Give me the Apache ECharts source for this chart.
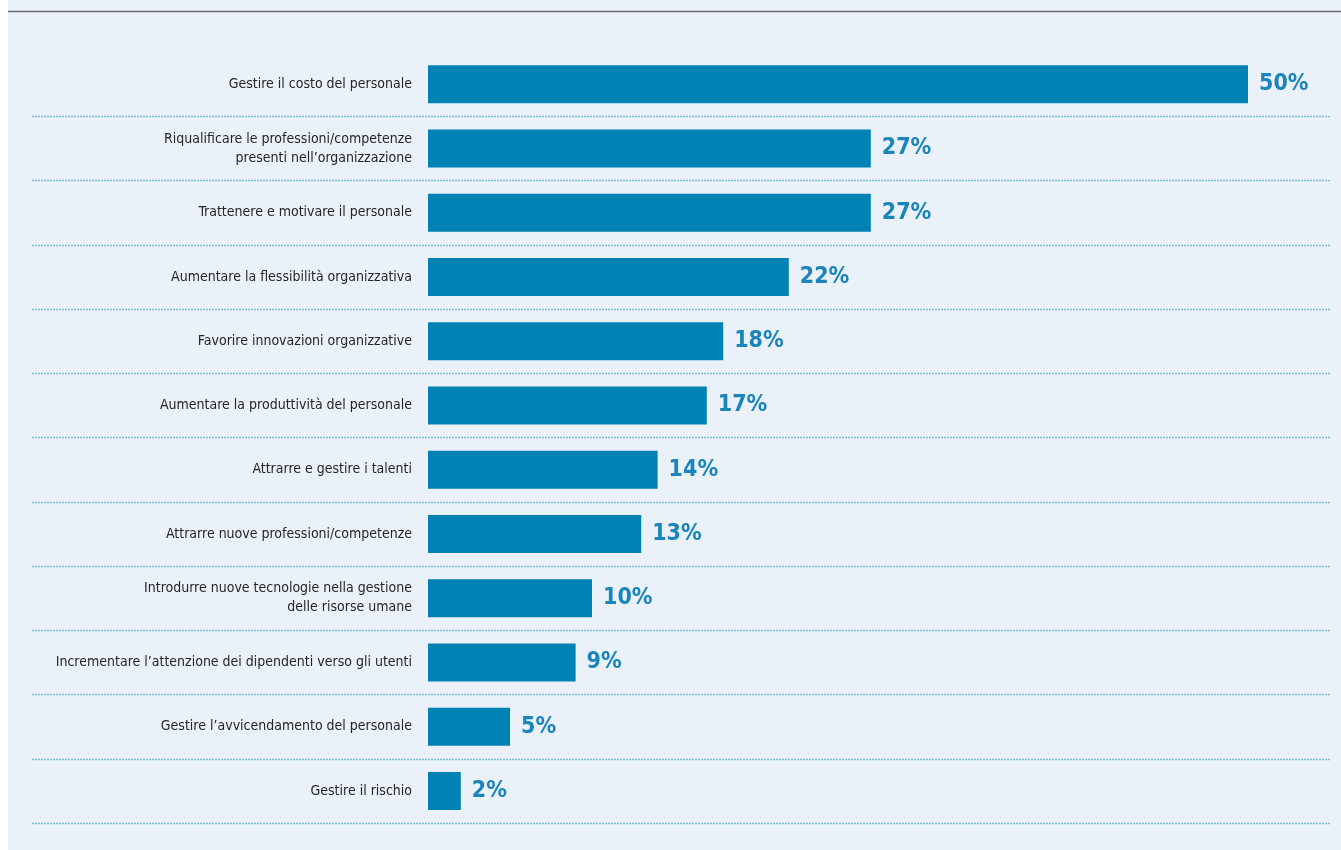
<!DOCTYPE html>
<html>
<head>
<meta charset="utf-8">
<script src="https://cdn.jsdelivr.net/npm/echarts@6/dist/echarts.min.js"></script>
<style>
  html, body { margin: 0; padding: 0; background: #ffffff; }
  #chart { position: absolute; left: 8px; top: 0; width: 1333px; height: 850px; }
</style>
</head>
<body>
<div id="chart"></div>
<script>
// Obiettivi della gestione del personale (% di risposte)
const categories = [
  'Gestire il costo del personale',
  'Riqualificare le professioni/competenze\npresenti nell\u2019organizzazione',
  'Trattenere e motivare il personale',
  'Aumentare la flessibilità organizzativa',
  'Favorire innovazioni organizzative',
  'Aumentare la produttività del personale',
  'Attrarre e gestire i talenti',
  'Attrarre nuove professioni/competenze',
  'Introdurre nuove tecnologie nella gestione\ndelle risorse umane',
  'Incrementare l\u2019attenzione dei dipendenti verso gli utenti',
  'Gestire l\u2019avvicendamento del personale',
  'Gestire il rischio'
];
const values = [50, 27, 27, 22, 18, 17, 14, 13, 10, 9, 5, 2];

const BAR = '#0082b4';
const VALUE_TEXT = '#1a85bc';
const LABEL_TEXT = '#262626';
const FONT = '"Liberation Sans Narrow", "DejaVu Sans Condensed", sans-serif';

const chart = echarts.init(document.getElementById('chart'), null, { renderer: 'canvas' });

chart.setOption({
  backgroundColor: '#eaf1f8',
  animation: false,
  graphic: [{
    type: 'line',
    shape: { x1: 0, y1: 11.5, x2: 1333, y2: 11.5 },
    style: { stroke: '#6b6b6b', lineWidth: 1.5 },
    silent: true
  }],
  grid: [
    // full-width grid carrying the dotted row separators
    { left: 24, right: 11, top: 52, bottom: 27 },
    // grid for the bars
    { left: 420, width: 820, top: 52, bottom: 27 }
  ],
  xAxis: [
    { gridIndex: 0, type: 'value', min: 0, max: 1, show: false },
    { gridIndex: 1, type: 'value', min: 0, max: 50, show: false }
  ],
  yAxis: [
    {
      gridIndex: 0,
      type: 'category',
      data: categories,
      inverse: true,
      axisLine: { show: false },
      axisTick: { show: false },
      axisLabel: { show: false },
      splitLine: {
        show: true,
        interval: function (idx) { return idx !== 0; },
        lineStyle: { color: '#78bfe3', type: [2, 1], width: 1.3 }
      }
    },
    {
      gridIndex: 1,
      type: 'category',
      data: categories,
      inverse: true,
      axisLine: { show: false },
      axisTick: { show: false },
      splitLine: { show: false },
      axisLabel: {
        margin: 16,
        color: LABEL_TEXT,
        fontFamily: FONT,
        fontSize: 14,
        lineHeight: 19,
        align: 'right'
      }
    }
  ],
  series: [{
    type: 'bar',
    xAxisIndex: 1,
    yAxisIndex: 1,
    data: values,
    barWidth: 38,
    itemStyle: { color: BAR },
    label: {
      show: true,
      position: 'right',
      distance: 11,
      formatter: '{c}%',
      color: VALUE_TEXT,
      fontFamily: FONT,
      fontWeight: 'bold',
      fontSize: 23
    }
  }]
});
</script>
</body>
</html>
